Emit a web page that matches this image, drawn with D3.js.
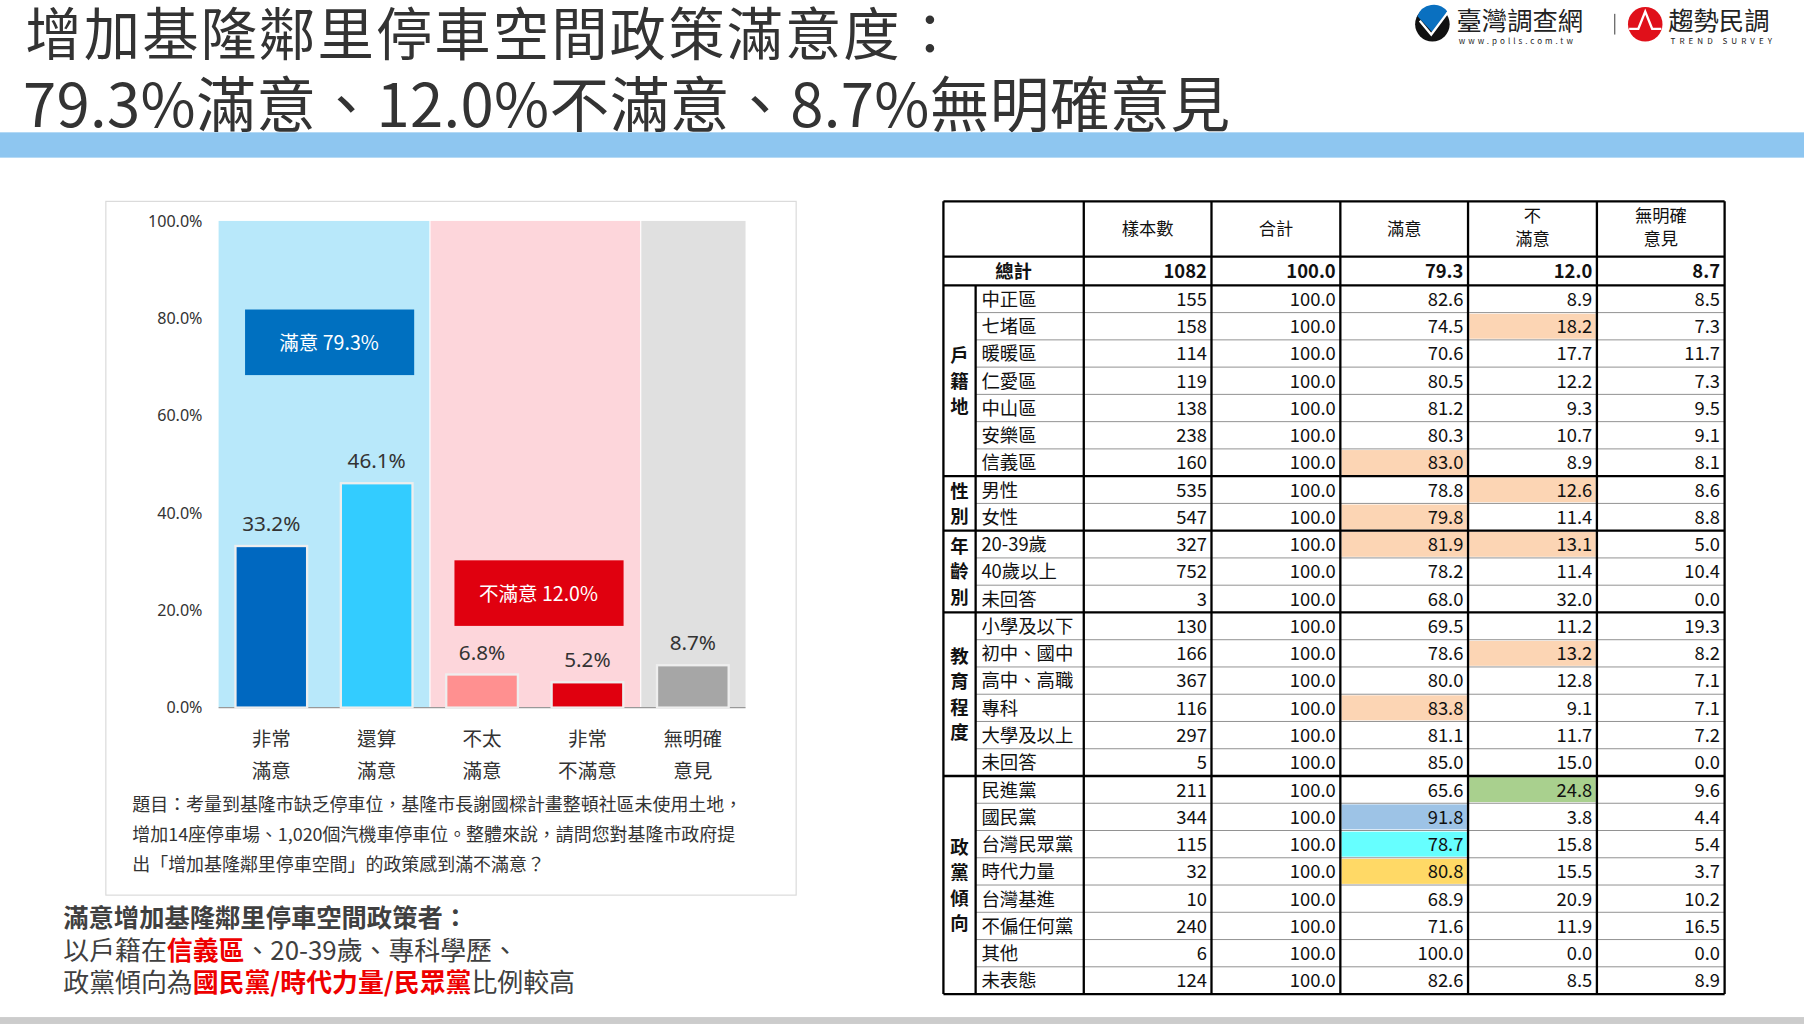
<!DOCTYPE html>
<html><head><meta charset="utf-8">
<script src="https://cdn.jsdelivr.net/npm/d3@7"></script>
<style>body{margin:0;background:#fff}svg{display:block;font-family:"Noto Sans CJK TC","Noto Sans",sans-serif}</style>
</head><body>
<svg id="c" width="1804" height="1024" viewBox="0 0 1568 890"></svg>
<script>
var cats = [["非常","滿意"],["還算","滿意"],["不太","滿意"],["非常","不滿意"],["無明確","意見"]];
var vals = [33.2, 46.1, 6.8, 5.2, 8.7];
var barColors = ["#0068c0","#33ccff","#ff9090","#e0000f","#a6a6a6"];
var yTicks = [0,20,40,60,80,100];

var groups = [["戶籍地",7],["性別",2],["年齡別",3],["教育程度",6],["政黨傾向",8]];
var rowNames = ["中正區","七堵區","暖暖區","仁愛區","中山區","安樂區","信義區","男性","女性","20-39歲","40歲以上","未回答","小學及以下","初中、國中","高中、高職","專科","大學及以上","未回答","民進黨","國民黨","台灣民眾黨","時代力量","台灣基進","不偏任何黨","其他","未表態"];
var nSample = [155,158,114,119,138,238,160,535,547,327,752,3,130,166,367,116,297,5,211,344,115,32,10,240,6,124];
var satis = [82.6,74.5,70.6,80.5,81.2,80.3,83.0,78.8,79.8,81.9,78.2,68.0,69.5,78.6,80.0,83.8,81.1,85.0,65.6,91.8,78.7,80.8,68.9,71.6,100.0,82.6];
var unsat = [8.9,18.2,17.7,12.2,9.3,10.7,8.9,12.6,11.4,13.1,11.4,32.0,11.2,13.2,12.8,9.1,11.7,15.0,24.8,3.8,15.8,15.5,20.9,11.9,0.0,8.5];
var noop = [8.5,7.3,11.7,7.3,9.5,9.1,8.1,8.6,8.8,5.0,10.4,0.0,19.3,8.2,7.1,7.1,7.2,0.0,9.6,4.4,5.4,3.7,10.2,16.5,0.0,8.9];
var total = [1082,100.0,79.3,12.0,8.7];
// key: row-column (3 = 滿意, 4 = 不滿意)
var highlights = {"1-4":"#fcd5b4","6-3":"#fcd5b4","7-4":"#fcd5b4","8-3":"#fcd5b4","9-3":"#fcd5b4","9-4":"#fcd5b4","13-4":"#fcd5b4","15-3":"#fcd5b4","18-4":"#a9d08e","19-3":"#9dc3e6","20-3":"#66ffff","21-3":"#ffd966"};

var svg = d3.select("#c");
// title
svg.append("text").attr("x",22).attr("y",48).attr("font-size",49).attr("letter-spacing",1.8).attr("fill","#333").text("增加基隆鄰里停車空間政策滿意度：");
svg.append("text").attr("x",20).attr("y",110).attr("font-size",52).attr("letter-spacing",0.3).attr("fill","#333").text("79.3%滿意、12.0%不滿意、8.7%無明確意見");
svg.append("rect").attr("x",0).attr("y",115).attr("width",1568).attr("height",22).attr("fill","#8ec6f0");
svg.append("rect").attr("x",0).attr("y",884).attr("width",1568).attr("height",6).attr("fill","#ccc");
// logo
var lg = svg.append("g");
lg.append("circle").attr("cx",1245).attr("cy",21).attr("r",15).attr("fill","#111");
lg.append("path").attr("d","M1232,14 A15,15 0 0 1 1258,10 L1245,28 Z").attr("fill","#0a70c0");
lg.append("path").attr("d","M1234,18 L1244,30 L1262,6").attr("fill","none").attr("stroke","#fff").attr("stroke-width",2);
lg.append("text").attr("x",1266).attr("y",26).attr("font-size",22).attr("fill","#222").text("臺灣調查網");
lg.append("text").attr("x",1268).attr("y",38).attr("font-size",7).attr("letter-spacing",2.6).attr("fill","#222").text("www.polls.com.tw");
lg.append("rect").attr("x",1403).attr("y",12).attr("width",1).attr("height",18).attr("fill","#555");
lg.append("circle").attr("cx",1430).attr("cy",21).attr("r",15).attr("fill","#e0101a");
lg.append("path").attr("d","M1416,25 L1424,25 L1430,10 L1436,25 L1444,25").attr("fill","none").attr("stroke","#fff").attr("stroke-width",2);
lg.append("text").attr("x",1450).attr("y",26).attr("font-size",22).attr("fill","#222").text("趨勢民調");
lg.append("text").attr("x",1452).attr("y",38).attr("font-size",7).attr("letter-spacing",3.5).attr("fill","#222").text("TREND SURVEY");

// chart
svg.append("rect").attr("x",92).attr("y",175).attr("width",600).attr("height",603).attr("fill","#fff").attr("stroke","#d9d9d9");
var x = d3.scaleBand().domain(d3.range(5)).range([190,648]).paddingInner(0.32).paddingOuter(0.16);
var y = d3.scaleLinear().domain([0,100]).range([615,192]);
var step = x.step(), x0 = 190;
[[0,2,"#b8e8fa"],[2,4,"#fdd6db"],[4,5,"#e0e0e0"]].forEach(function(b){
  svg.append("rect").attr("x",x0+b[0]*step+(b[0]?1:0)).attr("y",y(100)).attr("width",(b[1]-b[0])*step-(b[0]?1:0)).attr("height",y(0)-y(100)).attr("fill",b[2]);
});
svg.append("g").attr("transform","translate(190,0)").call(d3.axisLeft(y).tickValues(yTicks).tickSize(0).tickPadding(14).tickFormat(function(d){return d.toFixed(1)+"%";}))
  .call(function(g){g.select(".domain").remove();g.selectAll("text").attr("font-size",14).attr("fill","#333").attr("font-family","Noto Sans");});
svg.append("line").attr("x1",190).attr("x2",648).attr("y1",y(0)).attr("y2",y(0)).attr("stroke","#999");
svg.selectAll(".bar").data(vals).enter().append("rect").attr("x",function(d,i){return x(i);}).attr("y",function(d){return y(d);})
  .attr("width",x.bandwidth()).attr("height",function(d){return y(0)-y(d);}).attr("fill",function(d,i){return barColors[i];}).attr("stroke","#eee").attr("stroke-width",2);
svg.selectAll(".vl").data(vals).enter().append("text").attr("x",function(d,i){return x(i)+x.bandwidth()/2;}).attr("y",function(d){return y(d)-13;})
  .attr("text-anchor","middle").attr("font-size",18).attr("fill","#333").attr("font-family","Noto Sans").text(function(d){return d.toFixed(1)+"%";});
cats.forEach(function(c,i){
  c.forEach(function(t,j){svg.append("text").attr("x",x(i)+x.bandwidth()/2).attr("y",648+j*28).attr("text-anchor","middle").attr("font-size",17).attr("fill","#333").text(t);});
});
[[213,269,"#0070c0","滿意 79.3%"],[395,487,"#e0000f","不滿意 12.0%"]].forEach(function(b){
  svg.append("rect").attr("x",b[0]).attr("y",b[1]).attr("width",147).attr("height",57).attr("fill",b[2]);
  svg.append("text").attr("x",b[0]+73).attr("y",b[1]+35).attr("text-anchor","middle").attr("font-size",17).attr("fill","#fff").text(b[3]);
});
["題目：考量到基隆市缺乏停車位，基隆市長謝國樑計畫整頓社區未使用土地，","增加14座停車場、1,020個汽機車停車位。整體來說，請問您對基隆市政府提","出「增加基隆鄰里停車空間」的政策感到滿不滿意？"].forEach(function(t,i){
  svg.append("text").attr("x",115).attr("y",705+i*26).attr("font-size",15.6).attr("fill","#333").text(t);
});
svg.append("text").attr("x",55).attr("y",806).attr("font-size",22).attr("font-weight","bold").attr("fill","#404040").text("滿意增加基隆鄰里停車空間政策者：");
var t2 = svg.append("text").attr("x",55).attr("y",834).attr("font-size",22.5).attr("fill","#404040");
t2.append("tspan").text("以戶籍在"); t2.append("tspan").attr("fill","#e00").attr("font-weight","bold").text("信義區"); t2.append("tspan").text("、20-39歲、專科學歷、");
var t3 = svg.append("text").attr("x",55).attr("y",862).attr("font-size",22.5).attr("fill","#404040");
t3.append("tspan").text("政黨傾向為"); t3.append("tspan").attr("fill","#e00").attr("font-weight","bold").text("國民黨/時代力量/民眾黨"); t3.append("tspan").text("比例較高");

// table
var cx = [820,848,942,1053,1165,1276,1388,1499];
var rowY = d3.scaleLinear().domain([0,26]).range([248,864]);
var tg = svg.append("g").attr("font-family","Noto Sans CJK TC").attr("fill","#111");
rowNames.forEach(function(n,r){
  var y0 = rowY(r), y1 = rowY(r+1), ym = (y0+y1)/2+6;
  [nSample,null,satis,unsat,noop].forEach(function(arr,k){
    var c = k+3, key = r+"-"+(k+1);
    if (highlights[key]) tg.append("rect").attr("x",cx[c-1]+1).attr("y",y0+1).attr("width",cx[c]-cx[c-1]-2).attr("height",y1-y0-2).attr("fill",highlights[key]);
    var txt = k===0 ? arr[r] : (k===1 ? "100.0" : arr[r].toFixed(1));
    tg.append("text").attr("x",cx[c]-4).attr("y",ym).attr("text-anchor","end").attr("font-size",16).text(txt);
  });
  tg.append("text").attr("x",cx[1]+5).attr("y",ym).attr("font-size",16).text(n);
  tg.append("line").attr("x1",cx[1]).attr("x2",cx[7]).attr("y1",y1).attr("y2",y1).attr("stroke","#888").attr("stroke-width",0.8);
});
// header
["樣本數","合計","滿意",["不","滿意"],["無明確","意見"]].forEach(function(h,k){
  var mx = (cx[k+2]+cx[k+3])/2;
  if (typeof h === "string") tg.append("text").attr("x",mx).attr("y",204).attr("text-anchor","middle").attr("font-size",15).text(h);
  else h.forEach(function(t,j){tg.append("text").attr("x",mx).attr("y",193+j*20).attr("text-anchor","middle").attr("font-size",15).text(t);});
});
tg.append("text").attr("x",881).attr("y",242).attr("text-anchor","middle").attr("font-size",16).attr("font-weight","bold").text("總計");
total.forEach(function(v,k){
  tg.append("text").attr("x",cx[k+3]-4).attr("y",242).attr("text-anchor","end").attr("font-size",16).attr("font-weight","bold").text(k===0?v:v.toFixed(1));
});
// group labels and thick lines
var start = 0;
groups.forEach(function(g){
  var chars = g[0].split(""), y0 = rowY(start), y1 = rowY(start+g[1]), mid = (y0+y1)/2;
  chars.forEach(function(ch,i){
    tg.append("text").attr("x",834).attr("y",mid+(i-(chars.length-1)/2)*22+6).attr("text-anchor","middle").attr("font-size",16).attr("font-weight","bold").text(ch);
  });
  tg.append("line").attr("x1",cx[0]).attr("x2",cx[7]).attr("y1",y1).attr("y2",y1).attr("stroke","#000").attr("stroke-width",2);
  start += g[1];
});
[175,223,248].forEach(function(v){tg.append("line").attr("x1",cx[0]).attr("x2",cx[7]).attr("y1",v).attr("y2",v).attr("stroke","#000").attr("stroke-width",2);});
cx.forEach(function(v,i){
  var top = i===1 ? 248 : 175;
  tg.append("line").attr("x1",v).attr("x2",v).attr("y1",top).attr("y2",864).attr("stroke","#000").attr("stroke-width",2);
});
</script>
</body></html>
